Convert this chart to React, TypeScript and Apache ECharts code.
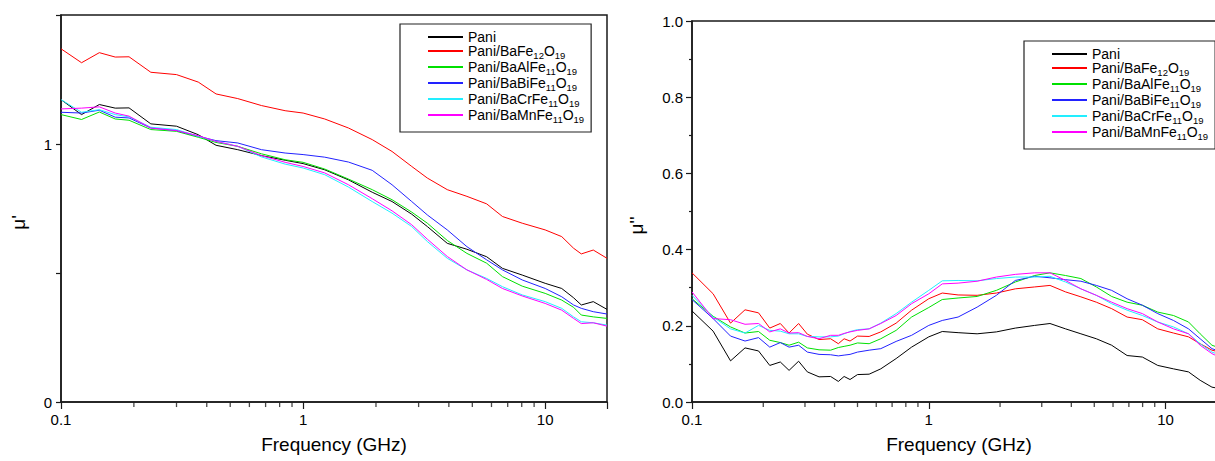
import React, { useEffect, useRef } from "react";
import * as echarts from "echarts";

// ---------- data: left panel (mu') ----------
const FREQ_L = [0.1, 0.1216, 0.144, 0.1675, 0.191, 0.235, 0.3, 0.369, 0.437, 0.537, 0.673, 0.843, 1.0, 1.228, 1.54, 1.93, 2.33, 2.81, 3.26, 3.94, 4.75, 5.73, 6.66, 8.04, 10, 11.7, 13.1, 14.1, 15.8, 18.0];
const MU1_PANI = [1.172, 1.114, 1.153, 1.139, 1.14, 1.078, 1.069, 1.036, 0.995, 0.978, 0.955, 0.937, 0.924, 0.9, 0.861, 0.813, 0.777, 0.728, 0.68, 0.615, 0.592, 0.563, 0.518, 0.492, 0.46, 0.44, 0.404, 0.376, 0.389, 0.359];
const MU1_FE = [1.369, 1.315, 1.354, 1.337, 1.338, 1.278, 1.269, 1.24, 1.194, 1.176, 1.149, 1.129, 1.12, 1.097, 1.062, 1.017, 0.971, 0.913, 0.868, 0.823, 0.797, 0.768, 0.719, 0.693, 0.667, 0.641, 0.596, 0.574, 0.589, 0.557];
const MU1_AL = [1.114, 1.095, 1.124, 1.097, 1.092, 1.056, 1.049, 1.026, 1.006, 0.991, 0.962, 0.939, 0.929, 0.903, 0.864, 0.823, 0.784, 0.736, 0.693, 0.626, 0.576, 0.538, 0.486, 0.449, 0.421, 0.395, 0.367, 0.337, 0.33, 0.324];
const MU1_BI = [1.123, 1.12, 1.131, 1.104, 1.101, 1.062, 1.052, 1.03, 1.013, 1.004, 0.978, 0.965, 0.959, 0.949, 0.93, 0.898, 0.842, 0.777, 0.725, 0.667, 0.602, 0.551, 0.512, 0.473, 0.44, 0.408, 0.376, 0.363, 0.35, 0.341];
const MU1_CR = [1.172, 1.123, 1.133, 1.114, 1.105, 1.065, 1.056, 1.03, 1.01, 0.991, 0.95, 0.922, 0.907, 0.881, 0.833, 0.777, 0.732, 0.68, 0.622, 0.557, 0.512, 0.479, 0.447, 0.415, 0.389, 0.363, 0.33, 0.311, 0.307, 0.298];
const MU1_MN = [1.136, 1.139, 1.144, 1.12, 1.108, 1.062, 1.052, 1.032, 1.01, 0.991, 0.955, 0.929, 0.913, 0.888, 0.842, 0.788, 0.741, 0.687, 0.631, 0.564, 0.512, 0.475, 0.44, 0.411, 0.382, 0.356, 0.324, 0.304, 0.307, 0.294];

// ---------- data: right panel (mu'') ----------
const FREQ_R = [0.1, 0.1228, 0.1455, 0.1675, 0.191, 0.213, 0.236, 0.257, 0.282, 0.307, 0.344, 0.385, 0.415, 0.439, 0.465, 0.5, 0.56, 0.627, 0.728, 0.846, 1.0, 1.14, 1.33, 1.6, 1.93, 2.32, 2.8, 3.25, 3.78, 4.39, 5.1, 5.92, 6.88, 7.98, 9.27, 10.8, 12.5, 14.0, 15.7, 18.0];
const MU2_PANI = [0.239, 0.186, 0.108, 0.142, 0.134, 0.096, 0.105, 0.083, 0.107, 0.079, 0.066, 0.067, 0.054, 0.067, 0.059, 0.072, 0.073, 0.087, 0.114, 0.144, 0.171, 0.185, 0.182, 0.179, 0.184, 0.194, 0.201, 0.206, 0.192, 0.179, 0.166, 0.149, 0.122, 0.118, 0.096, 0.087, 0.079, 0.057, 0.039, 0.032];
const MU2_FE = [0.339, 0.284, 0.207, 0.242, 0.234, 0.194, 0.206, 0.181, 0.206, 0.178, 0.164, 0.166, 0.153, 0.166, 0.16, 0.173, 0.172, 0.184, 0.207, 0.241, 0.271, 0.286, 0.281, 0.28, 0.286, 0.297, 0.302, 0.306, 0.289, 0.276, 0.262, 0.245, 0.223, 0.216, 0.192, 0.181, 0.171, 0.153, 0.136, 0.127];
const MU2_AL = [0.271, 0.225, 0.197, 0.181, 0.185, 0.162, 0.156, 0.149, 0.157, 0.142, 0.137, 0.136, 0.143, 0.146, 0.149, 0.155, 0.153, 0.166, 0.188, 0.223, 0.248, 0.269, 0.273, 0.277, 0.293, 0.315, 0.332, 0.339, 0.332, 0.324, 0.302, 0.277, 0.262, 0.254, 0.236, 0.227, 0.21, 0.179, 0.149, 0.136];
const MU2_BI = [0.269, 0.219, 0.173, 0.16, 0.169, 0.144, 0.156, 0.144, 0.149, 0.131, 0.125, 0.124, 0.121, 0.123, 0.125, 0.131, 0.136, 0.14, 0.159, 0.175, 0.201, 0.214, 0.223, 0.249, 0.28, 0.319, 0.33, 0.326, 0.321, 0.317, 0.306, 0.293, 0.271, 0.254, 0.232, 0.214, 0.192, 0.166, 0.14, 0.127];
const MU2_CR = [0.28, 0.223, 0.192, 0.181, 0.201, 0.188, 0.186, 0.179, 0.179, 0.172, 0.171, 0.171, 0.173, 0.179, 0.185, 0.19, 0.192, 0.207, 0.232, 0.262, 0.293, 0.318, 0.319, 0.318, 0.324, 0.328, 0.328, 0.33, 0.315, 0.297, 0.28, 0.258, 0.241, 0.227, 0.21, 0.197, 0.179, 0.153, 0.131, 0.118];
const MU2_MN = [0.289, 0.219, 0.216, 0.204, 0.206, 0.184, 0.192, 0.181, 0.182, 0.172, 0.166, 0.175, 0.175, 0.18, 0.184, 0.188, 0.192, 0.206, 0.227, 0.258, 0.284, 0.31, 0.312, 0.317, 0.328, 0.335, 0.339, 0.339, 0.319, 0.297, 0.28, 0.262, 0.245, 0.232, 0.21, 0.192, 0.179, 0.149, 0.127, 0.109];

const SERIES_NAMES = ["Pani", "Pani/BaFe12O19", "Pani/BaAlFe11O19", "Pani/BaBiFe11O19", "Pani/BaCrFe11O19", "Pani/BaMnFe11O19"];
const SERIES_COLORS = ["#000000", "#ff0000", "#00e000", "#2222ff", "#22eeff", "#ff00ff"];
const LEFT_VALUES = [MU1_PANI, MU1_FE, MU1_AL, MU1_BI, MU1_CR, MU1_MN];
const RIGHT_VALUES = [MU2_PANI, MU2_FE, MU2_AL, MU2_BI, MU2_CR, MU2_MN];

const X_MIN = 0.1;
const X_MAX = 18;
const X_TICK_LABELS = ["0.1", "1", "10"];
const MINOR_X = [0.2, 0.3, 0.4, 0.5, 0.6, 0.7, 0.8, 0.9, 2, 3, 4, 5, 6, 7, 8, 9];

const FONT = "Liberation Sans, Arial, Helvetica, sans-serif";
const AXIS_COLOR = "#1a1a1a";

function legendFormatter(name: string) {
  return name
    .split(/(\d+)/)
    .filter((p) => p.length > 0)
    .map((p) => (/^\d+$/.test(p) ? `{s|${p}}` : `{n|${p}}`))
    .join("");
}

function xAxisCfg(gridIndex: number) {
  return {
    type: "log",
    logBase: 10,
    gridIndex,
    min: X_MIN,
    max: X_MAX,
    name: "Frequency (GHz)",
    nameLocation: "middle",
    nameGap: 33,
    nameTextStyle: { fontFamily: FONT, fontSize: 19, color: "#000" },
    axisLine: { show: true, lineStyle: { color: AXIS_COLOR, width: 1.5 } },
    axisTick: { show: true, inside: false, length: 7, lineStyle: { color: AXIS_COLOR, width: 1.2 } },
    axisLabel: {
      fontFamily: FONT,
      fontSize: 15,
      color: "#000",
      margin: 10,
      formatter: (v: number) => {
        const s = String(+v.toPrecision(3));
        return X_TICK_LABELS.includes(s) ? s : "";
      },
    },
    splitLine: { show: false },
  };
}

function lineSeries(values: number[][], freqs: number[], idx: number) {
  return values.map((vals, i) => ({
    type: "line",
    name: SERIES_NAMES[i],
    xAxisIndex: idx,
    yAxisIndex: idx,
    data: freqs.map((f, k) => [f, vals[k]]),
    showSymbol: false,
    symbol: "none",
    lineStyle: { color: SERIES_COLORS[i], width: 1 },
    itemStyle: { color: SERIES_COLORS[i] },
    emphasis: { disabled: true },
    z: 2 + i,
  }));
}

function minorTickSeries(idx: number) {
  return {
    type: "scatter",
    name: "minor" + idx,
    xAxisIndex: idx,
    yAxisIndex: idx,
    data: MINOR_X.map((x) => [x, 0]),
    symbol: "rect",
    symbolSize: [1.3, 4.5],
    symbolOffset: [0, 2.8],
    itemStyle: { color: AXIS_COLOR },
    clip: false,
    silent: true,
    z: 10,
  };
}

function legendCfg(left: number, top: number) {
  return {
    show: true,
    orient: "vertical",
    left,
    top,
    padding: [6, 7, 8, 28],
    itemGap: 0,
    itemWidth: 35,
    itemHeight: 2,
    itemTextGap: 6,
    icon: "rect",
    borderColor: "#222",
    borderWidth: 1.2,
    backgroundColor: "#ffffff",
    data: SERIES_NAMES,
    formatter: legendFormatter,
    selectedMode: false,
    textStyle: {
      fontFamily: FONT,
      fontSize: 14,
      color: "#000",
      rich: {
        n: { fontFamily: FONT, fontSize: 14, color: "#000", lineHeight: 18 },
        s: { fontFamily: FONT, fontSize: 9.5, color: "#000", lineHeight: 7, verticalAlign: "bottom" },
      },
    },
  };
}

export default function App() {
  const ref = useRef<HTMLDivElement>(null);

  useEffect(() => {
    if (!ref.current) return;
    const chart = echarts.init(ref.current, undefined, { renderer: "svg" });
    const option: any = {
      animation: false,
      backgroundColor: "#ffffff",
      grid: [
        { left: 61, top: 15, width: 546, height: 387, show: true, borderColor: AXIS_COLOR, borderWidth: 1.5, backgroundColor: "transparent" },
        { left: 692, top: 21, width: 534, height: 381, show: true, borderColor: AXIS_COLOR, borderWidth: 1.5, backgroundColor: "transparent" },
      ],
      xAxis: [xAxisCfg(0), xAxisCfg(1)],
      yAxis: [
        {
          type: "value",
          gridIndex: 0,
          min: 0,
          max: 1.5,
          interval: 0.5,
          name: "μ'",
          nameLocation: "middle",
          nameGap: 33,
          nameTextStyle: { fontFamily: FONT, fontSize: 19, color: "#000", padding: [0, 28, 0, 0] },
          axisLine: { show: true, lineStyle: { color: AXIS_COLOR, width: 1.5 } },
          axisTick: { show: true, inside: false, length: 5, lineStyle: { color: AXIS_COLOR, width: 1.2 } },
          axisLabel: {
            fontFamily: FONT,
            fontSize: 15,
            color: "#000",
            margin: 9,
            formatter: (v: number) => (v === 0 || v === 1 ? String(v) : ""),
          },
          splitLine: { show: false },
        },
        {
          type: "value",
          gridIndex: 1,
          min: 0,
          max: 1,
          interval: 0.2,
          name: "μ''",
          nameLocation: "middle",
          nameGap: 46,
          nameTextStyle: { fontFamily: FONT, fontSize: 19, color: "#000", padding: [0, 28, 0, 0] },
          axisLine: { show: true, lineStyle: { color: AXIS_COLOR, width: 1.5 } },
          axisTick: { show: true, inside: false, length: 6, lineStyle: { color: AXIS_COLOR, width: 1.2 } },
          minorTick: { show: true, splitNumber: 2, length: 3, lineStyle: { color: AXIS_COLOR, width: 1.2 } },
          axisLabel: {
            fontFamily: FONT,
            fontSize: 15,
            color: "#000",
            margin: 9,
            formatter: (v: number) => v.toFixed(1),
          },
          splitLine: { show: false },
        },
      ],
      legend: [legendCfg(400, 24), legendCfg(1024, 41)],
      series: [
        ...lineSeries(LEFT_VALUES, FREQ_L, 0),
        ...lineSeries(RIGHT_VALUES, FREQ_R, 1),
        minorTickSeries(0),
        minorTickSeries(1),
      ],
    };
    chart.setOption(option);
    return () => chart.dispose();
  }, []);

  return (
    <div
      style={{
        position: "fixed",
        left: 0,
        top: 0,
        width: 1215,
        height: 461,
        overflow: "hidden",
        background: "#ffffff",
      }}
    >
      <div ref={ref} style={{ width: 1232, height: 461 }} />
    </div>
  );
}
